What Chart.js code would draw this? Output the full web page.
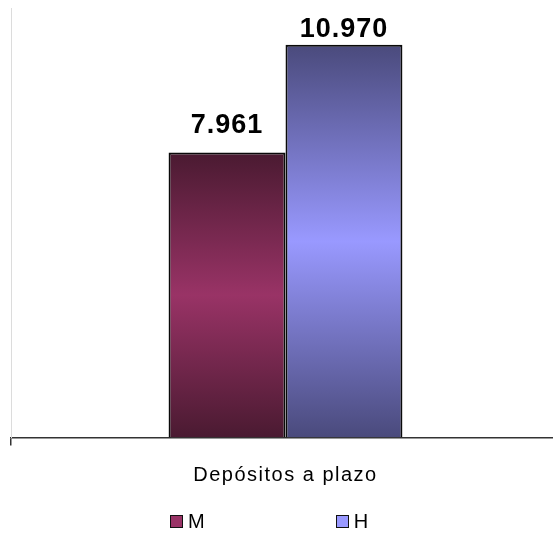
<!DOCTYPE html>
<html>
<head>
<meta charset="utf-8">
<script src="https://cdn.jsdelivr.net/npm/chart.js@4"></script>
<style>
  html, body { margin: 0; padding: 0; background: #fff; overflow: hidden; }
  #wrap { position: relative; width: 553px; height: 533px; overflow: hidden; }
  #legend { position: absolute; left: 170px; top: 514px; display: flex; font: 20px "Liberation Sans", Arial, sans-serif; color: #000; letter-spacing: 1px; }
  #legend .item { display: flex; align-items: center; height: 14px; }
  #legend .item + .item { margin-left: 130px; }
  #legend .box { width: 11px; height: 11px; border: 1.5px solid #111; margin-right: 5px; }
</style>
</head>
<body>
<div id="wrap">
  <canvas id="chart" width="560" height="533"></canvas>
  <div id="legend"></div>
</div>
<script>
// chart data
const categories = ['Depósitos a plazo'];
const seriesNames = ['M', 'H'];
const valuesM = [7961];
const valuesH = [10970];

// edge / middle colours of the bar gradients
const edgeM = '#4a1a31', midM = '#993366';
const edgeH = '#4a4a7c', midH = '#9999ff';

const fmt = v => String(v).replace(/\B(?=(\d{3})+(?!\d))/g, '.');

function barFill(ctx, edge, mid) {
  const chart = ctx.chart;
  if (!chart.chartArea || ctx.type !== 'data') return mid;
  const y = chart.scales.y;
  const top = y.getPixelForValue(ctx.raw);
  const bottom = y.getPixelForValue(0);
  const g = chart.ctx.createLinearGradient(0, top, 0, bottom);
  g.addColorStop(0, edge);
  g.addColorStop(0.5, mid);
  g.addColorStop(1, edge);
  return g;
}

// value labels above the bars (gap to bar top, per series)
const labelOffsets = [20, 8];
const valueLabels = {
  id: 'valueLabels',
  afterDatasetsDraw(chart) {
    const ctx = chart.ctx;
    ctx.save();
    ctx.font = 'bold 27px "Liberation Sans", Arial, sans-serif';
    ctx.letterSpacing = '1px';
    ctx.fillStyle = '#000';
    ctx.textAlign = 'center';
    ctx.textBaseline = 'alphabetic';
    chart.data.datasets.forEach((ds, i) => {
      chart.getDatasetMeta(i).data.forEach((bar, j) => {
        ctx.fillText(fmt(ds.data[j]), bar.x, bar.y - labelOffsets[i]);
      });
    });
    ctx.restore();
  }
};

// spaced text for the axis label
const spacing = {
  id: 'spacing',
  beforeDraw(chart) { chart.ctx.letterSpacing = '1.5px'; }
};

// html legend built from the datasets
const htmlLegend = {
  id: 'htmlLegend',
  afterUpdate(chart) {
    const el = document.getElementById('legend');
    el.innerHTML = '';
    chart.data.datasets.forEach(ds => {
      const item = document.createElement('div');
      item.className = 'item';
      const box = document.createElement('span');
      box.className = 'box';
      box.style.background = ds.legendColor;
      const txt = document.createElement('span');
      txt.textContent = ds.label;
      item.appendChild(box);
      item.appendChild(txt);
      el.appendChild(item);
    });
  }
};

new Chart(document.getElementById('chart').getContext('2d'), {
  type: 'bar',
  data: {
    labels: categories,
    datasets: [
      {
        label: seriesNames[0],
        data: valuesM,
        legendColor: midM,
        backgroundColor: ctx => barFill(ctx, edgeM, midM),
        borderColor: '#0a0a0a',
        borderWidth: 2
      },
      {
        label: seriesNames[1],
        data: valuesH,
        legendColor: midH,
        backgroundColor: ctx => barFill(ctx, edgeH, midH),
        borderColor: '#0a0a0a',
        borderWidth: 2
      }
    ]
  },
  plugins: [spacing, valueLabels, htmlLegend],
  options: {
    responsive: false,
    animation: false,
    layout: { padding: { left: 11, right: 0, top: 8, bottom: 0 } },
    datasets: { bar: { categoryPercentage: 0.426, barPercentage: 1 } },
    plugins: { legend: { display: false }, tooltip: { enabled: false } },
    scales: {
      x: {
        offset: true,
        grid: { display: true, drawOnChartArea: false, drawTicks: true, tickLength: 8, color: '#333', lineWidth: 1.5 },
        border: { display: true, color: '#333', width: 1.5 },
        ticks: { padding: 18, color: '#000', font: { family: '"Liberation Sans", Arial, sans-serif', size: 20 } },
        afterFit: s => { s.height = 95.5; }
      },
      y: {
        min: 0,
        max: 12000,
        grid: { display: false },
        border: { display: true, color: '#dcdcdc', width: 1 },
        ticks: { display: false },
        afterFit: s => { s.width = 0; }
      }
    }
  }
});
</script>
</body>
</html>
